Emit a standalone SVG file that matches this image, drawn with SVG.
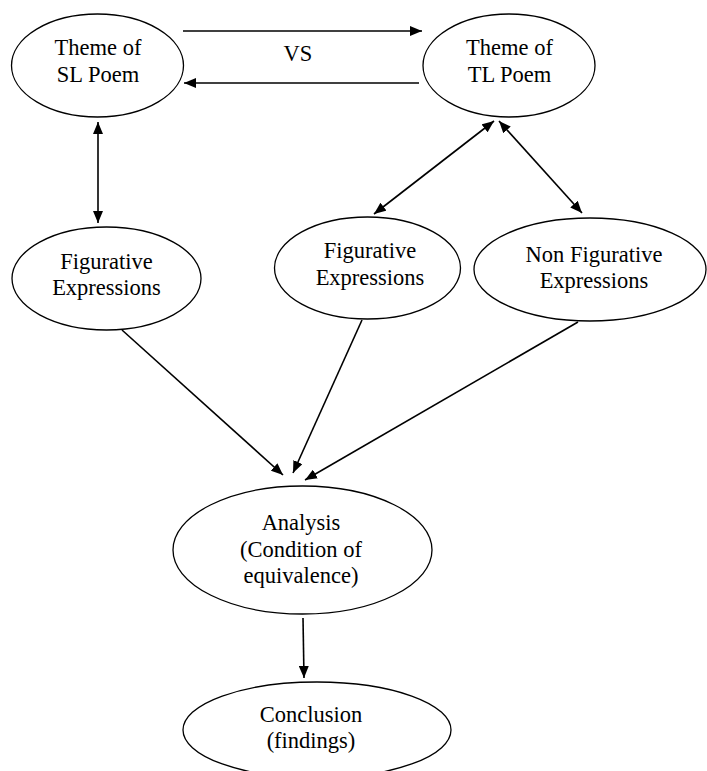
<svg xmlns="http://www.w3.org/2000/svg" width="707" height="771" viewBox="0 0 707 771">
<style>
.node ellipse{fill:#fff;stroke:#000;stroke-width:1.3}
.node text, .lbl{font-family:"Liberation Serif","Times New Roman",serif;font-size:22.5px;fill:#000;text-anchor:middle}
.edges line{stroke:#000;stroke-width:1.6;fill:none}
.one{marker-end:url(#ah)}
.two{marker-start:url(#ah);marker-end:url(#ah)}
</style>
<defs>
<marker id="ah" markerUnits="userSpaceOnUse" markerWidth="12" markerHeight="10" refX="12" refY="5" orient="auto-start-reverse">
<path d="M0,0 L12,5 L0,10 z" fill="#000"/>
</marker>
</defs>
<rect width="707" height="771" fill="#fff"/>
<g class="edges" id="connectors">
<line class="one" x1="183" y1="31" x2="422" y2="31"/>
<line class="one" x1="419" y1="83" x2="184" y2="83"/>
<line class="two" x1="98" y1="122" x2="98" y2="223"/>
<line class="two" x1="494" y1="121" x2="374" y2="214"/>
<line class="two" x1="499" y1="121" x2="582" y2="213"/>
<line class="one" x1="122" y1="330" x2="283" y2="475"/>
<line class="one" x1="362" y1="320" x2="293" y2="473"/>
<line class="one" x1="578" y1="322" x2="305" y2="480"/>
<line class="one" x1="303" y1="618" x2="304" y2="678"/>
</g>
<text class="lbl" x="298" y="61">VS</text>
<g class="node" id="sl-theme">
<ellipse cx="97.5" cy="65.5" rx="86" ry="51.5"/>
<text x="98" y="55">Theme of</text>
<text x="98" y="82">SL Poem</text>
</g>
<g class="node" id="tl-theme">
<ellipse cx="509" cy="65.5" rx="86" ry="51.5"/>
<text x="509.5" y="55">Theme of</text>
<text x="509.5" y="82">TL Poem</text>
</g>
<g class="node" id="sl-figurative">
<ellipse cx="106.5" cy="278.5" rx="94.5" ry="51.5"/>
<text x="106.5" y="269">Figurative</text>
<text x="106.5" y="295">Expressions</text>
</g>
<g class="node" id="tl-figurative">
<ellipse cx="367.5" cy="268" rx="93" ry="51"/>
<text x="370" y="258">Figurative</text>
<text x="370" y="285">Expressions</text>
</g>
<g class="node" id="tl-nonfigurative">
<ellipse cx="590" cy="269.5" rx="116" ry="51.5"/>
<text x="594" y="262">Non Figurative</text>
<text x="594" y="288">Expressions</text>
</g>
<g class="node" id="analysis">
<ellipse cx="302.5" cy="550" rx="129.5" ry="64"/>
<text x="301" y="530">Analysis</text>
<text x="301" y="557">(Condition of</text>
<text x="301" y="583">equivalence)</text>
</g>
<g class="node" id="conclusion">
<ellipse cx="317" cy="730" rx="134" ry="48"/>
<text x="311" y="722">Conclusion</text>
<text x="311" y="748">(findings)</text>
</g>
</svg>
